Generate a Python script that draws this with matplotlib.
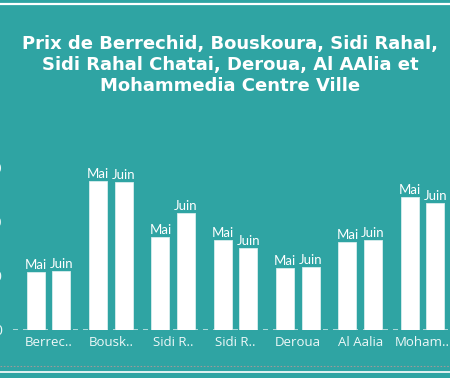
import matplotlib
matplotlib.use("Agg")
import matplotlib.pyplot as plt
import numpy as np
from matplotlib.lines import Line2D

categories = ["Berrec..", "Bousk..", "Sidi R..", "Sidi R..", "Deroua", "Al Aalia", "Moham.."]
series_names = ["Mai", "Juin"]
mai = [5370, 13800, 8600, 8330, 5740, 8150, 12310]
juin = [5460, 13700, 10830, 7590, 5830, 8330, 11760]
yticks = [0, 5000, 10000, 15000]
title = "Prix de Berrechid, Bouskoura, Sidi Rahal,\nSidi Rahal Chatai, Deroua, Al AAlia et\nMohammedia Centre Ville"

BG = "#2fa4a3"
W, H = 450, 378
fig = plt.figure(figsize=(W/100, H/100), dpi=100, facecolor=BG)

# frame lines
fig.add_artist(Line2D([0, 1], [1-3.5/H, 1-3.5/H], color="white", lw=1.6, transform=fig.transFigure))
fig.add_artist(Line2D([0, 1], [1-366/H, 1-366/H], color="#9a9a9a", lw=0.8, ls=(0, (1.5, 1.5)), transform=fig.transFigure))
fig.add_artist(Line2D([0, 1], [1-371.5/H, 1-371.5/H], color="white", lw=1.2, transform=fig.transFigure))

fig.text(230/W, 1-65/H, title, ha="center", va="center", color="white",
         fontsize=13, fontweight="bold", family="DejaVu Sans", linespacing=1.2)

left_px, base_px, top_px = 13, 330, 150
ax = fig.add_axes([left_px/W, (H-base_px)/H, 1-left_px/W, (base_px-top_px)/H])
ax.set_facecolor("none")
ymax = (base_px-top_px)/54*5000
ax.set_ylim(0, ymax)
ax.set_xlim(-0.57, 6.44)

x = np.arange(len(categories))
off = 0.205
bw = 0.29
b1 = ax.bar(x-off, mai, bw, color="white", edgecolor="#d8eeee", lw=0.6, zorder=3)
b2 = ax.bar(x+off, juin, bw, color="white", edgecolor="#d8eeee", lw=0.6, zorder=3)
for bars, name in [(b1, "Mai"), (b2, "Juin")]:
    for r in bars:
        ax.annotate(name, (r.get_x()+r.get_width()/2, r.get_height()), xytext=(0, 1),
                    textcoords="offset points", ha="center", va="bottom", color="white",
                    fontsize=9.5, family="Lato", zorder=4)

ax.axhline(0, color="#c4e4e4", lw=1.2, ls=(0, (3, 3)), zorder=2)
for s in ax.spines.values():
    s.set_visible(False)
ax.set_xticks(x)
ax.set_xticklabels(categories, color="#eef8f8", fontsize=9.5, family="Open Sans")
ax.set_yticks(yticks)
ax.set_yticklabels([str(v) for v in yticks], color="#eef8f8", fontsize=9.5, family="Lato")
ax.tick_params(length=0, axis="x", pad=4)
ax.tick_params(length=0, axis="y", pad=8)

fig.savefig("out.png", dpi=100, facecolor=BG)
